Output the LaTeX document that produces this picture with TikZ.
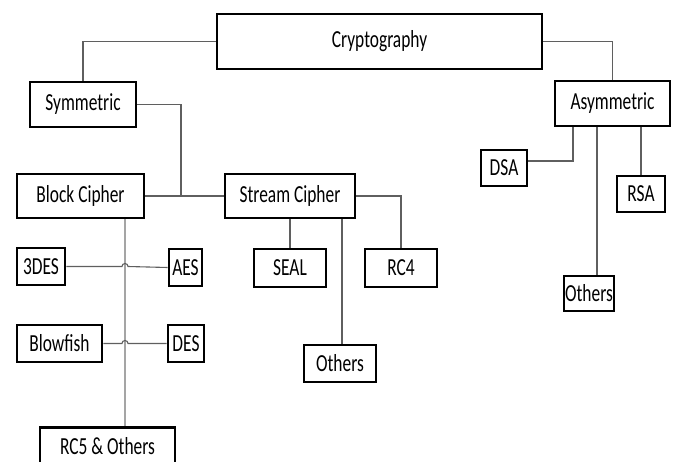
\documentclass[tikz,border=0pt]{standalone}
\usepackage{fontspec}
\setmainfont{Carlito}[FakeStretch=0.71]
\usetikzlibrary{calc}
\definecolor{linkgray}{RGB}{95,95,95}
\definecolor{stemgray}{RGB}{165,165,165}
\begin{document}
\begin{tikzpicture}[x=1pt,y=1pt,
  box/.style={draw=black,line width=2.6pt,fill=white,inner sep=0pt,
    font=\fontsize{24.5}{28}\selectfont},
  link/.style={draw=linkgray,line width=1.1pt},
  stem/.style={draw=stemgray,line width=1.4pt}]
\useasboundingbox (0,0) rectangle (676,-462);

% --- top level
\node[box,minimum width=325,minimum height=55] (crypto) at (379.5,-41.5) {Cryptography};
\node[box,minimum width=106,minimum height=45] (sym)  at (83,-104.5)  {Symmetric};
\node[box,minimum width=115,minimum height=45] (asym) at (612.5,-103.5) {Asymmetric};

% --- symmetric families
\node[box,minimum width=127,minimum height=44] (block)  at (80.5,-196) {Block Cipher};
\node[box,minimum width=130,minimum height=44] (stream) at (290,-196)  {Stream Cipher};

% --- block ciphers
\node[box,minimum width=48,minimum height=37]  (tdes) at (41,-266.5)   {3DES};
\node[box,minimum width=33,minimum height=37]  (aes)  at (185.5,-267.5) {AES};
\node[box,minimum width=85,minimum height=37]  (blow) at (59.5,-343.5) {Blowfish};
\node[box,minimum width=36,minimum height=37]  (des)  at (186,-343.5)  {DES};
\node[box,minimum width=135,minimum height=37] (rc5)  at (107.5,-446)  {RC5 \& Others};

% --- stream ciphers
\node[box,minimum width=72,minimum height=38] (seal)   at (290,-268)   {SEAL};
\node[box,minimum width=72,minimum height=38] (rcfour) at (401,-268)   {RC4};
\node[box,minimum width=72,minimum height=37] (sothers) at (340,-363.5) {Others};

% --- asymmetric algorithms
\node[box,minimum width=46,minimum height=36] (dsa) at (504,-168) {DSA};
\node[box,minimum width=48,minimum height=36] (rsa) at (641,-194) {RSA};
\node[box,minimum width=50,minimum height=35] (aothers) at (589,-293.5) {Others};

% --- junction points
\coordinate (symjoin) at (181,-196);
\coordinate (bstem)   at (125,-219);
\coordinate (dsajoin) at (573,-161);
\coordinate (aojoin)  at (597,-127);
\coordinate (sojoin)  at (342,-219);

% --- connectors
\draw[link] (crypto.west) -| (sym.north);
\draw[link] (crypto.east) -| (asym.north);
\draw[link] (sym.east) -| (symjoin);
\draw[link] (block.east) -- (stream.west);

\draw[stem] (bstem) -- (bstem |- rc5.north);
\draw[link] (tdes.east) -- ($(tdes.east -| bstem)+(-3,0)$)
  arc[start angle=180,end angle=0,radius=3] -- (aes.west);
\draw[link] (blow.east) -- ($(blow.east -| bstem)+(-3,0)$)
  arc[start angle=180,end angle=0,radius=3] -- (des.west);

\draw[link] (seal.north) -- (seal.north |- stream.south);
\draw[link] (sojoin) -- (sojoin |- sothers.north);
\draw[link] (stream.east) -| (rcfour.north);

\draw[link] (dsajoin -| dsa.east) -- (dsajoin) -- (dsajoin |- asym.south);
\draw[link] (rsa.north) -- (rsa.north |- asym.south);
\draw[link] (aojoin) -- (aojoin |- aothers.north);
\end{tikzpicture}
\end{document}
